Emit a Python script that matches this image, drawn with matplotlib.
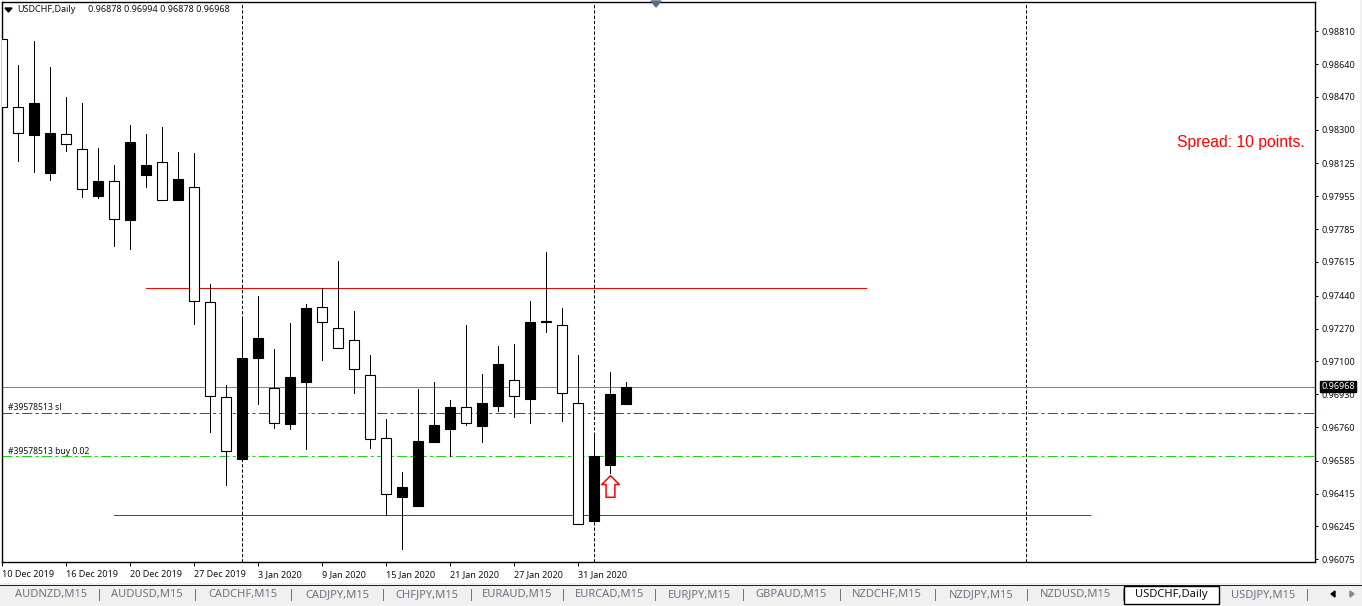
"""USDCHF daily candlestick chart in the MetaTrader style."""

import matplotlib
matplotlib.use("Agg")
import matplotlib.pyplot as plt
from matplotlib.path import Path
from matplotlib.patches import Rectangle, Polygon

W, H = 1362, 606

plt.rcParams["font.family"] = ["Noto Sans", "DejaVu Sans"]
plt.rcParams["lines.scale_dashes"] = False

# candles, oldest first
opens = [0.98770, 0.98418, 0.98273, 0.98076, 0.98278, 0.98200, 0.97957, 0.98034, 0.97832, 0.98065,
         0.98133, 0.97936, 0.98003, 0.97408, 0.96916, 0.96594, 0.97118, 0.96962, 0.96776, 0.96993,
         0.97382, 0.97273, 0.97211, 0.97029, 0.96703, 0.96398, 0.96351, 0.96682, 0.96750, 0.96864,
         0.96765, 0.96869, 0.97004, 0.96905, 0.97304, 0.97288, 0.96884, 0.96273, 0.96563, 0.96878]
highs = [0.98822, 0.98635, 0.98760, 0.98625, 0.98470, 0.98438, 0.98205, 0.98117, 0.98324, 0.98278,
         0.98314, 0.98185, 0.98179, 0.97501, 0.96978, 0.97330, 0.97439, 0.97164, 0.97299, 0.97397,
         0.97480, 0.97620, 0.97361, 0.97133, 0.96802, 0.96527, 0.96957, 0.96993, 0.96900, 0.97288,
         0.97035, 0.97180, 0.97190, 0.97413, 0.97667, 0.97377, 0.97133, 0.96729, 0.97045, 0.96994]
lows = [0.98330, 0.98138, 0.98081, 0.98040, 0.98190, 0.97952, 0.97946, 0.97698, 0.97682, 0.98003,
        0.97936, 0.97936, 0.97294, 0.96734, 0.96460, 0.96594, 0.96879, 0.96755, 0.96750, 0.96646,
        0.97107, 0.97169, 0.96936, 0.96651, 0.96304, 0.96128, 0.96351, 0.96682, 0.96610, 0.96770,
        0.96682, 0.96843, 0.96812, 0.96781, 0.97252, 0.96791, 0.96258, 0.96273, 0.96522, 0.96878]
closes = [0.98418, 0.98283, 0.98438, 0.98283, 0.98226, 0.97993, 0.98034, 0.97838, 0.98236, 0.98117,
          0.97936, 0.98045, 0.97413, 0.96921, 0.96636, 0.97118, 0.97221, 0.96781, 0.97019, 0.97377,
          0.97304, 0.97169, 0.97061, 0.96698, 0.96413, 0.96449, 0.96688, 0.96770, 0.96864, 0.96781,
          0.96884, 0.97086, 0.96921, 0.97304, 0.97309, 0.96936, 0.96258, 0.96610, 0.96931, 0.96968]

# axis ticks
price_ticks = [0.98810, 0.98640, 0.98470, 0.98300, 0.98125, 0.97955, 0.97785, 0.97615, 0.97440,
               0.97270, 0.97100, 0.96930, 0.96760, 0.96585, 0.96415, 0.96245, 0.96075]
date_ticks = [0, 4, 8, 12, 16, 20, 24, 28, 32, 36]
date_labels = ["10 Dec 2019", "16 Dec 2019", "20 Dec 2019", "27 Dec 2019", "3 Jan 2020",
               "9 Jan 2020", "15 Jan 2020", "21 Jan 2020", "27 Jan 2020", "31 Jan 2020"]

# chart objects
period_separators = [15, 37, 64]
bid_price = 0.96968
sl_price = 0.96831
buy_price = 0.96608
upper_level = 0.97480
upper_span = [9, 54]
lower_level = 0.96304
lower_span = [7, 68]
arrow_bar = 38
arrow_price = 0.96455

tab_names = ["AUDNZD,M15", "AUDUSD,M15", "CADCHF,M15", "CADJPY,M15", "CHFJPY,M15", "EURAUD,M15",
             "EURCAD,M15", "EURJPY,M15", "GBPAUD,M15", "NZDCHF,M15", "NZDJPY,M15", "NZDUSD,M15",
             "USDCHF,Daily", "USDJPY,M15"]
tab_centers = [51, 147, 243, 337, 427, 517, 609, 699, 791, 887, 981, 1075, 1171, 1263]
tab_separators = [99, 195, 291, 383, 471, 563, 655, 743, 840, 935, 1027, 1123, 1307]


def px(x, y):
    """Screen pixel to figure fraction."""
    return x / W, 1 - y / H


fig = plt.figure(figsize=(W / 100, H / 100), dpi=100, facecolor="white")
left, right, top, bottom = 1.5, 1315, 1.5, 562
ax = fig.add_axes([left / W, 1 - bottom / H, (right - left) / W, (bottom - top) / H])
ax.set_xlim((left - 1.6) / 16, (right - 1.6) / 16)
ax.set_ylim(0.96061, 0.98964)

for side in ax.spines:
    ax.spines[side].set_linewidth(1.0)

# levels sit behind the candles
for bar in period_separators:
    ax.axvline(bar, color="black", lw=0.72, ls=(0, (2.4, 1.4)), zorder=1)
ax.axhline(bid_price, color="#778899", lw=0.72, zorder=1)
ax.axhline(sl_price, color="#ff0000", lw=0.72, ls=(0, (7.2, 2.4, 2.2, 2.4)), zorder=1)
ax.axhline(buy_price, color="#1fd01f", lw=0.72, ls=(0, (7.2, 2.4, 2.2, 2.4)), zorder=1)
ax.plot(upper_span, [upper_level, upper_level], color="#ff0000", lw=0.72, zorder=1)
ax.plot(lower_span, [lower_level, lower_level], color="#ff0000", lw=0.72, zorder=1)

for i in range(len(opens)):
    is_up = closes[i] > opens[i]
    ax.plot([i, i], [lows[i], highs[i]], color="black", lw=0.72, zorder=2)
    ax.bar(i, abs(closes[i] - opens[i]), bottom=min(opens[i], closes[i]), width=0.62,
           facecolor="black" if is_up else "white", edgecolor="black", linewidth=0.8, zorder=3)

arrow_path = Path([(0, 1), (0.82, 0.18), (0.41, 0.18), (0.41, -1), (-0.41, -1), (-0.41, 0.18),
                   (-0.82, 0.18), (0, 1)], closed=True)
ax.plot([arrow_bar], [arrow_price], marker=arrow_path, ms=15.5, mfc="white", mec="#ff0000", mew=1.1,
        ls="none", zorder=4)

ax.set_xticks(date_ticks)
ax.set_xticklabels(date_labels, ha="left")
ax.tick_params(axis="x", length=3, width=0.75, pad=3, labelsize=6.5, labelcolor="#111111")
ax.yaxis.tick_right()
ax.set_yticks(price_ticks)
ax.set_yticklabels([f"{p:.5f}" for p in price_ticks])
ax.tick_params(axis="y", length=2.5, width=0.75, pad=2, labelsize=6.5, labelcolor="#111111")

# price tag on the axis
ax.text(1.0 + 6 / (right - left), bid_price, f"{bid_price:.5f}", transform=ax.get_yaxis_transform(),
        color="white", fontsize=6.5, va="center", ha="left", clip_on=False, zorder=6,
        bbox=dict(facecolor="black", edgecolor="black", boxstyle="square,pad=0.12"))

fig.text(*px(17, 9.5), "USDCHF,Daily", fontsize=6.5, color="#111111", va="center")
fig.text(*px(88, 9.5), "0.96878 0.96994 0.96878 0.96968", fontsize=6.5, color="#111111", va="center")
fig.add_artist(Polygon([px(5, 8), px(12, 8), px(8.5, 12)], closed=True, color="black", transform=fig.transFigure))
fig.add_artist(Polygon([px(651, 1), px(661, 1), px(656, 7)], closed=True, color="#5a6e82", transform=fig.transFigure))

fig.text(*px(8, 407.5), "#39578513 sl", fontsize=6.2, color="#111111", va="center")
fig.text(*px(8, 451), "#39578513 buy 0.02", fontsize=6.2, color="#111111", va="center")
fig.text(*px(1305, 142), "Spread: 10 points.", fontsize=11.3, color="#ff0000", va="center", ha="right",
         family=["Liberation Sans", "DejaVu Sans"])

# tab strip along the bottom
def screen_rect(x0, y0, x1, y1, **kwargs):
    xa, ya = px(x0, y1)
    xb, yb = px(x1, y0)
    fig.add_artist(Rectangle((xa, ya), xb - xa, yb - ya, transform=fig.transFigure, **kwargs))


screen_rect(0, 583, W, 606, facecolor="#f0f0f0", edgecolor="none")
screen_rect(0, 585, W, 586, facecolor="#222222", edgecolor="none")
screen_rect(1360, 0, W, 583, facecolor="#f0f0f0", edgecolor="none")
screen_rect(1123.5, 585.5, 1219, 603.5, facecolor="white", edgecolor="black", linewidth=1)

for x in tab_separators:
    screen_rect(x, 589, x + 1, 601, facecolor="#777777", edgecolor="none")
for name, x in zip(tab_names, tab_centers):
    active = name == "USDCHF,Daily"
    fig.text(*px(x, 594.5), name, fontsize=8.0, ha="center", va="center",
             color="#111111" if active else "#6b7480")

fig.add_artist(Polygon([px(1335, 591), px(1335, 597), px(1331, 594)], closed=True, color="black", transform=fig.transFigure))
fig.add_artist(Polygon([px(1350, 591), px(1350, 597), px(1354, 594)], closed=True, color="#888888", transform=fig.transFigure))

fig.savefig("out.png", dpi=100)
